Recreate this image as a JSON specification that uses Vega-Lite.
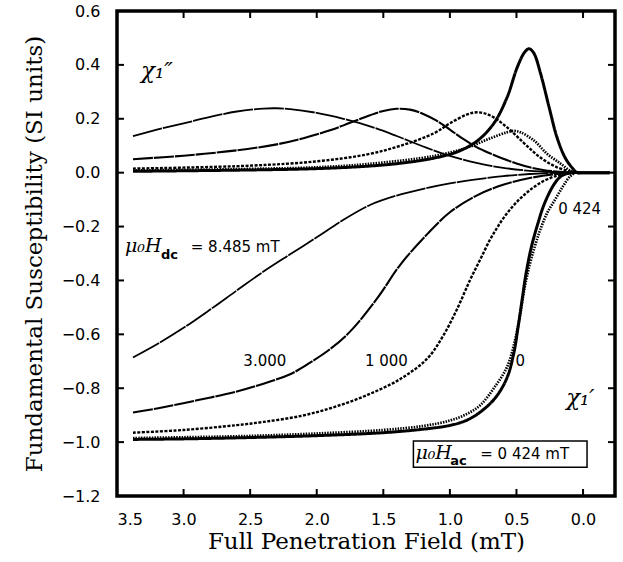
{
  "$schema": "https://vega.github.io/schema/vega-lite/v6.json",
  "width": 498,
  "height": 485,
  "autosize": {"type": "none"},
  "padding": {"left": 117, "top": 11, "right": 8, "bottom": 66},
  "background": "white",
  "config": {
    "view": {"stroke": null},
    "axis": {"grid": false, "domain": false, "ticks": false, "labelColor": "black", "titleColor": "black"}
  },
  "datasets": {
    "curves": [
      {"dc": "0", "part": "re", "x": 3.38, "y": -0.99}, {"dc": "0", "part": "re", "x": 3.0, "y": -0.988}, {"dc": "0", "part": "re", "x": 2.5, "y": -0.983}, {"dc": "0", "part": "re", "x": 2.0, "y": -0.976}, {"dc": "0", "part": "re", "x": 1.5, "y": -0.965}, {"dc": "0", "part": "re", "x": 1.2, "y": -0.952}, {"dc": "0", "part": "re", "x": 1.0, "y": -0.938}, {"dc": "0", "part": "re", "x": 0.87, "y": -0.918}, {"dc": "0", "part": "re", "x": 0.75, "y": -0.88}, {"dc": "0", "part": "re", "x": 0.65, "y": -0.83}, {"dc": "0", "part": "re", "x": 0.57, "y": -0.76}, {"dc": "0", "part": "re", "x": 0.52, "y": -0.67}, {"dc": "0", "part": "re", "x": 0.49, "y": -0.58}, {"dc": "0", "part": "re", "x": 0.46, "y": -0.48}, {"dc": "0", "part": "re", "x": 0.43, "y": -0.38}, {"dc": "0", "part": "re", "x": 0.39, "y": -0.28}, {"dc": "0", "part": "re", "x": 0.34, "y": -0.19}, {"dc": "0", "part": "re", "x": 0.29, "y": -0.115}, {"dc": "0", "part": "re", "x": 0.22, "y": -0.045}, {"dc": "0", "part": "re", "x": 0.17, "y": -0.015}, {"dc": "0", "part": "re", "x": 0.12, "y": -0.003}, {"dc": "0", "part": "re", "x": 0.08, "y": 0}, {"dc": "0", "part": "re", "x": 0.0, "y": 0}, {"dc": "0", "part": "re", "x": -0.2, "y": 0},
      {"dc": "0.424", "part": "re", "x": 3.38, "y": -0.985}, {"dc": "0.424", "part": "re", "x": 3.0, "y": -0.982}, {"dc": "0.424", "part": "re", "x": 2.5, "y": -0.977}, {"dc": "0.424", "part": "re", "x": 2.0, "y": -0.968}, {"dc": "0.424", "part": "re", "x": 1.5, "y": -0.955}, {"dc": "0.424", "part": "re", "x": 1.2, "y": -0.94}, {"dc": "0.424", "part": "re", "x": 1.0, "y": -0.92}, {"dc": "0.424", "part": "re", "x": 0.87, "y": -0.895}, {"dc": "0.424", "part": "re", "x": 0.77, "y": -0.862}, {"dc": "0.424", "part": "re", "x": 0.67, "y": -0.8}, {"dc": "0.424", "part": "re", "x": 0.57, "y": -0.72}, {"dc": "0.424", "part": "re", "x": 0.51, "y": -0.62}, {"dc": "0.424", "part": "re", "x": 0.47, "y": -0.52}, {"dc": "0.424", "part": "re", "x": 0.44, "y": -0.43}, {"dc": "0.424", "part": "re", "x": 0.4, "y": -0.34}, {"dc": "0.424", "part": "re", "x": 0.36, "y": -0.27}, {"dc": "0.424", "part": "re", "x": 0.32, "y": -0.21}, {"dc": "0.424", "part": "re", "x": 0.27, "y": -0.15}, {"dc": "0.424", "part": "re", "x": 0.21, "y": -0.1}, {"dc": "0.424", "part": "re", "x": 0.15, "y": -0.05}, {"dc": "0.424", "part": "re", "x": 0.1, "y": -0.015}, {"dc": "0.424", "part": "re", "x": 0.06, "y": 0},
      {"dc": "1.000", "part": "re", "x": 3.38, "y": -0.965}, {"dc": "1.000", "part": "re", "x": 3.0, "y": -0.955}, {"dc": "1.000", "part": "re", "x": 2.6, "y": -0.937}, {"dc": "1.000", "part": "re", "x": 2.4, "y": -0.925}, {"dc": "1.000", "part": "re", "x": 2.12, "y": -0.903}, {"dc": "1.000", "part": "re", "x": 1.87, "y": -0.87}, {"dc": "1.000", "part": "re", "x": 1.62, "y": -0.825}, {"dc": "1.000", "part": "re", "x": 1.37, "y": -0.765}, {"dc": "1.000", "part": "re", "x": 1.17, "y": -0.69}, {"dc": "1.000", "part": "re", "x": 1.05, "y": -0.605}, {"dc": "1.000", "part": "re", "x": 0.945, "y": -0.505}, {"dc": "1.000", "part": "re", "x": 0.85, "y": -0.4}, {"dc": "1.000", "part": "re", "x": 0.77, "y": -0.32}, {"dc": "1.000", "part": "re", "x": 0.7, "y": -0.25}, {"dc": "1.000", "part": "re", "x": 0.64, "y": -0.2}, {"dc": "1.000", "part": "re", "x": 0.57, "y": -0.15}, {"dc": "1.000", "part": "re", "x": 0.48, "y": -0.1}, {"dc": "1.000", "part": "re", "x": 0.4, "y": -0.065}, {"dc": "1.000", "part": "re", "x": 0.3, "y": -0.032}, {"dc": "1.000", "part": "re", "x": 0.2, "y": -0.012}, {"dc": "1.000", "part": "re", "x": 0.1, "y": -0.002}, {"dc": "1.000", "part": "re", "x": 0.06, "y": 0},
      {"dc": "3.000", "part": "re", "x": 3.38, "y": -0.89}, {"dc": "3.000", "part": "re", "x": 3.2, "y": -0.875}, {"dc": "3.000", "part": "re", "x": 2.9, "y": -0.845}, {"dc": "3.000", "part": "re", "x": 2.6, "y": -0.812}, {"dc": "3.000", "part": "re", "x": 2.4, "y": -0.783}, {"dc": "3.000", "part": "re", "x": 2.2, "y": -0.748}, {"dc": "3.000", "part": "re", "x": 2.05, "y": -0.705}, {"dc": "3.000", "part": "re", "x": 1.9, "y": -0.655}, {"dc": "3.000", "part": "re", "x": 1.75, "y": -0.59}, {"dc": "3.000", "part": "re", "x": 1.545, "y": -0.466}, {"dc": "3.000", "part": "re", "x": 1.37, "y": -0.34}, {"dc": "3.000", "part": "re", "x": 1.17, "y": -0.228}, {"dc": "3.000", "part": "re", "x": 1.0, "y": -0.147}, {"dc": "3.000", "part": "re", "x": 0.8, "y": -0.085}, {"dc": "3.000", "part": "re", "x": 0.6, "y": -0.045}, {"dc": "3.000", "part": "re", "x": 0.4, "y": -0.02}, {"dc": "3.000", "part": "re", "x": 0.22, "y": -0.006}, {"dc": "3.000", "part": "re", "x": 0.06, "y": 0},
      {"dc": "8.485", "part": "re", "x": 3.38, "y": -0.686}, {"dc": "8.485", "part": "re", "x": 3.2, "y": -0.637}, {"dc": "8.485", "part": "re", "x": 3.0, "y": -0.576}, {"dc": "8.485", "part": "re", "x": 2.8, "y": -0.508}, {"dc": "8.485", "part": "re", "x": 2.6, "y": -0.437}, {"dc": "8.485", "part": "re", "x": 2.4, "y": -0.367}, {"dc": "8.485", "part": "re", "x": 2.2, "y": -0.303}, {"dc": "8.485", "part": "re", "x": 2.0, "y": -0.24}, {"dc": "8.485", "part": "re", "x": 1.8, "y": -0.175}, {"dc": "8.485", "part": "re", "x": 1.6, "y": -0.12}, {"dc": "8.485", "part": "re", "x": 1.4, "y": -0.085}, {"dc": "8.485", "part": "re", "x": 1.2, "y": -0.06}, {"dc": "8.485", "part": "re", "x": 1.0, "y": -0.04}, {"dc": "8.485", "part": "re", "x": 0.8, "y": -0.025}, {"dc": "8.485", "part": "re", "x": 0.6, "y": -0.013}, {"dc": "8.485", "part": "re", "x": 0.4, "y": -0.005}, {"dc": "8.485", "part": "re", "x": 0.2, "y": -0.001}, {"dc": "8.485", "part": "re", "x": 0.06, "y": 0},
      {"dc": "0", "part": "im", "x": 3.38, "y": 0.005}, {"dc": "0", "part": "im", "x": 2.5, "y": 0.01}, {"dc": "0", "part": "im", "x": 2.0, "y": 0.015}, {"dc": "0", "part": "im", "x": 1.62, "y": 0.024}, {"dc": "0", "part": "im", "x": 1.37, "y": 0.035}, {"dc": "0", "part": "im", "x": 1.12, "y": 0.054}, {"dc": "0", "part": "im", "x": 0.94, "y": 0.078}, {"dc": "0", "part": "im", "x": 0.79, "y": 0.12}, {"dc": "0", "part": "im", "x": 0.67, "y": 0.183}, {"dc": "0", "part": "im", "x": 0.57, "y": 0.28}, {"dc": "0", "part": "im", "x": 0.495, "y": 0.39}, {"dc": "0", "part": "im", "x": 0.44, "y": 0.446}, {"dc": "0", "part": "im", "x": 0.405, "y": 0.46}, {"dc": "0", "part": "im", "x": 0.37, "y": 0.444}, {"dc": "0", "part": "im", "x": 0.32, "y": 0.37}, {"dc": "0", "part": "im", "x": 0.255, "y": 0.243}, {"dc": "0", "part": "im", "x": 0.195, "y": 0.13}, {"dc": "0", "part": "im", "x": 0.135, "y": 0.056}, {"dc": "0", "part": "im", "x": 0.08, "y": 0.017}, {"dc": "0", "part": "im", "x": 0.045, "y": 0}, {"dc": "0", "part": "im", "x": 0.0, "y": 0}, {"dc": "0", "part": "im", "x": -0.2, "y": 0},
      {"dc": "0.424", "part": "im", "x": 3.38, "y": 0.008}, {"dc": "0.424", "part": "im", "x": 2.5, "y": 0.014}, {"dc": "0.424", "part": "im", "x": 2.0, "y": 0.02}, {"dc": "0.424", "part": "im", "x": 1.62, "y": 0.032}, {"dc": "0.424", "part": "im", "x": 1.12, "y": 0.062}, {"dc": "0.424", "part": "im", "x": 0.87, "y": 0.093}, {"dc": "0.424", "part": "im", "x": 0.7, "y": 0.127}, {"dc": "0.424", "part": "im", "x": 0.57, "y": 0.15}, {"dc": "0.424", "part": "im", "x": 0.52, "y": 0.155}, {"dc": "0.424", "part": "im", "x": 0.47, "y": 0.15}, {"dc": "0.424", "part": "im", "x": 0.37, "y": 0.12}, {"dc": "0.424", "part": "im", "x": 0.27, "y": 0.07}, {"dc": "0.424", "part": "im", "x": 0.17, "y": 0.034}, {"dc": "0.424", "part": "im", "x": 0.1, "y": 0.008}, {"dc": "0.424", "part": "im", "x": 0.06, "y": 0},
      {"dc": "1.000", "part": "im", "x": 3.38, "y": 0.015}, {"dc": "1.000", "part": "im", "x": 2.5, "y": 0.026}, {"dc": "1.000", "part": "im", "x": 2.0, "y": 0.042}, {"dc": "1.000", "part": "im", "x": 1.62, "y": 0.068}, {"dc": "1.000", "part": "im", "x": 1.37, "y": 0.1}, {"dc": "1.000", "part": "im", "x": 1.12, "y": 0.146}, {"dc": "1.000", "part": "im", "x": 1.0, "y": 0.183}, {"dc": "1.000", "part": "im", "x": 0.87, "y": 0.216}, {"dc": "1.000", "part": "im", "x": 0.79, "y": 0.224}, {"dc": "1.000", "part": "im", "x": 0.7, "y": 0.213}, {"dc": "1.000", "part": "im", "x": 0.57, "y": 0.168}, {"dc": "1.000", "part": "im", "x": 0.44, "y": 0.108}, {"dc": "1.000", "part": "im", "x": 0.32, "y": 0.056}, {"dc": "1.000", "part": "im", "x": 0.195, "y": 0.02}, {"dc": "1.000", "part": "im", "x": 0.06, "y": 0},
      {"dc": "3.000", "part": "im", "x": 3.38, "y": 0.05}, {"dc": "3.000", "part": "im", "x": 3.0, "y": 0.063}, {"dc": "3.000", "part": "im", "x": 2.6, "y": 0.083}, {"dc": "3.000", "part": "im", "x": 2.3, "y": 0.105}, {"dc": "3.000", "part": "im", "x": 2.1, "y": 0.128}, {"dc": "3.000", "part": "im", "x": 1.9, "y": 0.157}, {"dc": "3.000", "part": "im", "x": 1.75, "y": 0.185}, {"dc": "3.000", "part": "im", "x": 1.6, "y": 0.213}, {"dc": "3.000", "part": "im", "x": 1.5, "y": 0.229}, {"dc": "3.000", "part": "im", "x": 1.4, "y": 0.237}, {"dc": "3.000", "part": "im", "x": 1.3, "y": 0.234}, {"dc": "3.000", "part": "im", "x": 1.2, "y": 0.218}, {"dc": "3.000", "part": "im", "x": 1.1, "y": 0.193}, {"dc": "3.000", "part": "im", "x": 1.0, "y": 0.16}, {"dc": "3.000", "part": "im", "x": 0.9, "y": 0.125}, {"dc": "3.000", "part": "im", "x": 0.8, "y": 0.095}, {"dc": "3.000", "part": "im", "x": 0.7, "y": 0.072}, {"dc": "3.000", "part": "im", "x": 0.6, "y": 0.052}, {"dc": "3.000", "part": "im", "x": 0.5, "y": 0.034}, {"dc": "3.000", "part": "im", "x": 0.4, "y": 0.02}, {"dc": "3.000", "part": "im", "x": 0.3, "y": 0.01}, {"dc": "3.000", "part": "im", "x": 0.2, "y": 0.004}, {"dc": "3.000", "part": "im", "x": 0.06, "y": 0},
      {"dc": "8.485", "part": "im", "x": 3.38, "y": 0.136}, {"dc": "8.485", "part": "im", "x": 3.2, "y": 0.16}, {"dc": "8.485", "part": "im", "x": 3.0, "y": 0.183}, {"dc": "8.485", "part": "im", "x": 2.8, "y": 0.207}, {"dc": "8.485", "part": "im", "x": 2.6, "y": 0.227}, {"dc": "8.485", "part": "im", "x": 2.4, "y": 0.238}, {"dc": "8.485", "part": "im", "x": 2.3, "y": 0.239}, {"dc": "8.485", "part": "im", "x": 2.2, "y": 0.236}, {"dc": "8.485", "part": "im", "x": 2.0, "y": 0.222}, {"dc": "8.485", "part": "im", "x": 1.8, "y": 0.2}, {"dc": "8.485", "part": "im", "x": 1.6, "y": 0.172}, {"dc": "8.485", "part": "im", "x": 1.4, "y": 0.136}, {"dc": "8.485", "part": "im", "x": 1.2, "y": 0.097}, {"dc": "8.485", "part": "im", "x": 1.0, "y": 0.062}, {"dc": "8.485", "part": "im", "x": 0.8, "y": 0.036}, {"dc": "8.485", "part": "im", "x": 0.6, "y": 0.018}, {"dc": "8.485", "part": "im", "x": 0.4, "y": 0.007}, {"dc": "8.485", "part": "im", "x": 0.2, "y": 0.002}, {"dc": "8.485", "part": "im", "x": 0.06, "y": 0}
    ],
    "xticks": [{"v": 0}, {"v": 0.5}, {"v": 1}, {"v": 1.5}, {"v": 2}, {"v": 2.5}, {"v": 3}, {"v": 3.5}],
    "yticks": [{"v": -1.2}, {"v": -1}, {"v": -0.8}, {"v": -0.6}, {"v": -0.4}, {"v": -0.2}, {"v": 0}, {"v": 0.2}, {"v": 0.4}, {"v": 0.6}]
  },
  "layer": [
    {
      "data": {"name": "curves"},
      "mark": {"type": "line", "interpolate": "catmull-rom", "color": "black", "strokeCap": "butt", "strokeJoin": "round"},
      "encoding": {
        "x": {"field": "x", "type": "quantitative", "scale": {"domain": [-0.24, 3.5], "reverse": true, "nice": false, "zero": false},
          "axis": {"orient": "bottom", "values": [0, 0.5, 1, 1.5, 2, 2.5, 3, 3.5], "format": ".1f", "labelFont": "DejaVu Sans", "labelFontSize": 16, "labelPadding": 15, "title": "Full Penetration Field  (mT)", "titleFont": "DejaVu Serif", "titleFontSize": 23, "titleFontWeight": "normal", "titlePadding": 3}},
        "y": {"field": "y", "type": "quantitative", "scale": {"domain": [-1.2, 0.6], "nice": false, "zero": false},
          "axis": {"orient": "left", "values": [-1.2, -1, -0.8, -0.6, -0.4, -0.2, 0, 0.2, 0.4, 0.6], "format": ".1f", "labelFont": "DejaVu Sans", "labelFontSize": 16, "labelPadding": 17, "title": "Fundamental Susceptibility (SI units)", "titleFont": "DejaVu Serif", "titleFontSize": 23, "titleFontWeight": "normal", "titlePadding": 15}},
        "detail": {"field": "part"},
        "strokeDash": {"field": "dc", "type": "nominal", "scale": {"domain": ["0", "0.424", "1.000", "3.000", "8.485"], "range": [[1, 0], [1.5, 1.2], [3, 1.5], [20, 1], [30, 1]]}, "legend": null},
        "strokeWidth": {"field": "dc", "type": "ordinal", "scale": {"domain": ["0", "0.424", "1.000", "3.000", "8.485"], "range": [3, 1.8, 3.2, 3.5, 3.5]}, "legend": null}
      }
    },
    {
      "data": {"values": [{"x": 3.5, "x2": -0.24, "y": 0.6, "y2": -1.2}]},
      "mark": {"type": "rect", "fill": null, "stroke": "black", "strokeWidth": 3.5},
      "encoding": {
        "x": {"field": "x", "type": "quantitative"},
        "x2": {"field": "x2"},
        "y": {"field": "y", "type": "quantitative"},
        "y2": {"field": "y2"}
      }
    },
    {
      "data": {"name": "xticks"},
      "mark": {"type": "rule", "color": "black", "strokeWidth": 2},
      "encoding": {
        "x": {"field": "v", "type": "quantitative"},
        "y": {"datum": -1.2, "type": "quantitative"},
        "y2": {"datum": -1.174}
      }
    },
    {
      "data": {"name": "xticks"},
      "mark": {"type": "rule", "color": "black", "strokeWidth": 2},
      "encoding": {
        "x": {"field": "v", "type": "quantitative"},
        "y": {"datum": 0.6, "type": "quantitative"},
        "y2": {"datum": 0.574}
      }
    },
    {
      "data": {"name": "yticks"},
      "mark": {"type": "rule", "color": "black", "strokeWidth": 2},
      "encoding": {
        "y": {"field": "v", "type": "quantitative"},
        "x": {"datum": 3.5, "type": "quantitative"},
        "x2": {"datum": 3.4475}
      }
    },
    {
      "data": {"name": "yticks"},
      "mark": {"type": "rule", "color": "black", "strokeWidth": 2},
      "encoding": {
        "y": {"field": "v", "type": "quantitative"},
        "x": {"datum": -0.24, "type": "quantitative"},
        "x2": {"datum": -0.1875}
      }
    },
    {
      "data": {"values": [{"x": 1.274, "x2": -0.03, "y": -0.996, "y2": -1.093}]},
      "mark": {"type": "rect", "fill": null, "stroke": "black", "strokeWidth": 1.5},
      "encoding": {
        "x": {"field": "x", "type": "quantitative"},
        "x2": {"field": "x2"},
        "y": {"field": "y", "type": "quantitative"},
        "y2": {"field": "y2"}
      }
    },
    {
      "data": {"values": [
        {"x": 2.39, "y": -0.716, "t": "3.000"},
        {"x": 1.477, "y": -0.716, "t": "1 000"},
        {"x": 0.472, "y": -0.716, "t": "0"}
      ]},
      "mark": {"type": "text", "align": "center", "baseline": "alphabetic", "font": "DejaVu Sans", "fontSize": 15, "color": "black"},
      "encoding": {
        "x": {"field": "x", "type": "quantitative"},
        "y": {"field": "y", "type": "quantitative"},
        "text": {"field": "t"}
      }
    },
    {
      "data": {"values": [
        {"x": 0.187, "y": -0.153, "t": "0 424"},
        {"x": 2.946, "y": -0.295, "t": "= 8.485 mT"},
        {"x": 0.772, "y": -1.063, "t": "= 0 424  mT"}
      ]},
      "mark": {"type": "text", "align": "left", "baseline": "alphabetic", "font": "DejaVu Sans", "fontSize": 15, "color": "black"},
      "encoding": {
        "x": {"field": "x", "type": "quantitative"},
        "y": {"field": "y", "type": "quantitative"},
        "text": {"field": "t"}
      }
    },
    {
      "data": {"values": [
        {"x": 3.32, "y": 0.35, "t": "χ₁″"},
        {"x": 0.127, "y": -0.862, "t": "χ₁′"}
      ]},
      "mark": {"type": "text", "align": "left", "baseline": "alphabetic", "font": "DejaVu Serif", "fontStyle": "italic", "fontSize": 23, "color": "black"},
      "encoding": {
        "x": {"field": "x", "type": "quantitative"},
        "y": {"field": "y", "type": "quantitative"},
        "text": {"field": "t"}
      }
    },
    {
      "data": {"values": [
        {"x": 3.44, "y": -0.295, "t": "μ₀H"},
        {"x": 1.259, "y": -1.063, "t": "μ₀H"}
      ]},
      "mark": {"type": "text", "align": "left", "baseline": "alphabetic", "font": "DejaVu Serif", "fontStyle": "italic", "fontSize": 19, "color": "black"},
      "encoding": {
        "x": {"field": "x", "type": "quantitative"},
        "y": {"field": "y", "type": "quantitative"},
        "text": {"field": "t"}
      }
    },
    {
      "data": {"values": [
        {"x": 3.17, "y": -0.321, "t": "dc"},
        {"x": 0.997, "y": -1.086, "t": "ac"}
      ]},
      "mark": {"type": "text", "align": "left", "baseline": "alphabetic", "font": "DejaVu Sans", "fontWeight": "bold", "fontSize": 13, "color": "black"},
      "encoding": {
        "x": {"field": "x", "type": "quantitative"},
        "y": {"field": "y", "type": "quantitative"},
        "text": {"field": "t"}
      }
    }
  ]
}
